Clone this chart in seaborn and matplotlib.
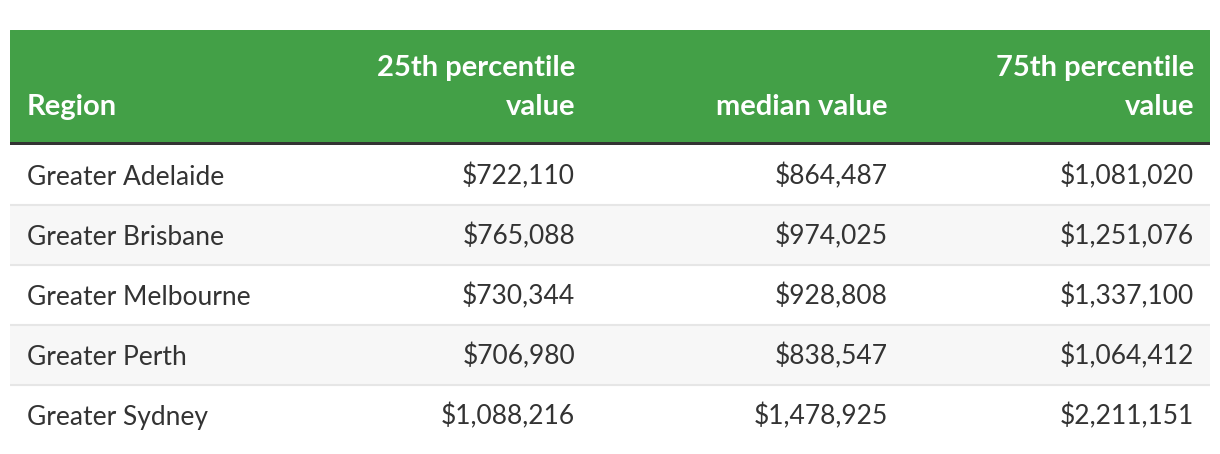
import numpy as np
import pandas as pd
import seaborn as sns
import matplotlib.pyplot as plt
from matplotlib.colors import ListedColormap
from matplotlib import transforms

# Table contents
regions = ["Greater Adelaide", "Greater Brisbane", "Greater Melbourne",
           "Greater Perth", "Greater Sydney"]
p25 = [722110, 765088, 730344, 706980, 1088216]
median = [864487, 974025, 928808, 838547, 1478925]
p75 = [1081020, 1251076, 1337100, 1064412, 2211151]
header_lines = [["Region"], ["25th percentile", "value"], ["median value"],
                ["75th percentile", "value"]]

df = pd.DataFrame({"Region": regions, "p25": p25, "median": median, "p75": p75})

sns.set_theme(style="white")
plt.rcParams['font.family'] = ['Lato', 'DejaVu Sans']

W, H = 1220, 454
fig = plt.figure(figsize=(W / 100, H / 100), dpi=100)
fig.patch.set_facecolor("white")

# layout in pixels
left_px, right_px = 10, 1210
head_top, head_bot = 30, 145
body_top, body_bot = 145, 445
col_x = [27, 575, 888, 1194]   # left edge for first col, right edges for others
green = "#43a047"
dark = "#333333"
txt = "#333333"

def fx(px):
    return (px - left_px) / (right_px - left_px)

# header
axh = fig.add_axes([left_px / W, (H - head_bot) / H,
                    (right_px - left_px) / W, (head_bot - head_top) / H])
axh.set_xlim(left_px, right_px)
axh.set_ylim(head_bot, head_top)
axh.set_facecolor(green)
axh.axhspan(head_bot - 3, head_bot, color=dark, lw=0)
axh.set_axis_off()
axh.add_patch(plt.Rectangle((left_px, head_top), right_px - left_px,
                            head_bot - head_top - 3, color=green, zorder=0))
for j, lines in enumerate(header_lines):
    ha = "left" if j == 0 else "right"
    n = len(lines)
    for k, line in enumerate(lines):
        base = 115 - (n - 1 - k) * 39
        axh.text(col_x[j], base, line, ha=ha, va="baseline", color="white",
                 fontsize=21, fontweight="bold")

# body: striped rows drawn as a heatmap
stripes = np.array([[i % 2] for i in range(len(df))])
axb = fig.add_axes([left_px / W, (H - body_bot) / H,
                    (right_px - left_px) / W, (body_bot - body_top) / H])
sns.heatmap(stripes, ax=axb, cmap=ListedColormap(["white", "#f7f7f7"]),
            cbar=False, xticklabels=False, yticklabels=False, linewidths=0)
for i in range(1, len(df)):
    axb.axhline(i, color="#e6e6e6", lw=1.5)
for s in axb.spines.values():
    s.set_visible(False)

trans = transforms.blended_transform_factory(axb.transAxes, axb.transData)
fmt = lambda v: "${:,}".format(v)
for i, row in df.iterrows():
    y = i + 0.66
    axb.text(fx(col_x[0]), y, row["Region"], transform=trans, ha="left",
             va="baseline", color=txt, fontsize=19)
    for j, key in enumerate(["p25", "median", "p75"], start=1):
        axb.text(fx(col_x[j]), y, fmt(row[key]), transform=trans, ha="right",
                 va="baseline", color=txt, fontsize=19)

fig.savefig("out.png", dpi=100, facecolor="white")
